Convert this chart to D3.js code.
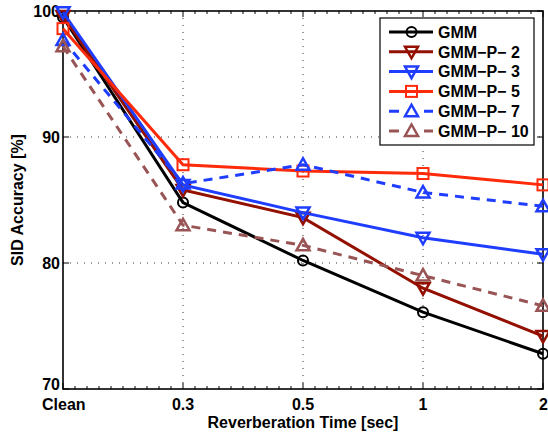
<!DOCTYPE html>
<html>
<head>
<meta charset="utf-8">
<script src="https://cdn.jsdelivr.net/npm/d3@7"></script>
<style>
  body { margin: 0; background: #fff; }
  svg text { font-family: "Liberation Sans", Arial, sans-serif; font-weight: bold; fill: #000; }
</style>
</head>
<body>
<div id="chart"></div>
<script>
var categories = ["Clean", "0.3", "0.5", "1", "2"];
var yTicks = [70, 80, 90, 100];

var gmm    = [99.5, 84.8, 80.2, 76.1, 72.8];
var gmmP2  = [99.6, 85.8, 83.6, 78.0, 74.2];
var gmmP3  = [99.9, 86.2, 84.0, 82.0, 80.7];
var gmmP5  = [98.6, 87.8, 87.3, 87.1, 86.2];
var gmmP7  = [97.7, 86.3, 87.8, 85.6, 84.5];
var gmmP10 = [97.2, 83.0, 81.4, 79.0, 76.6];

var series = [
  {name: "GMM",         values: gmm,    color: "#000000", dash: null,  marker: "circle"},
  {name: "GMM\u2212P\u2212 2",  values: gmmP2,  color: "#930f00", dash: null,  marker: "down"},
  {name: "GMM\u2212P\u2212 3",  values: gmmP3,  color: "#1f3dff", dash: null,  marker: "down"},
  {name: "GMM\u2212P\u2212 5",  values: gmmP5,  color: "#ff2a0a", dash: null,  marker: "square"},
  {name: "GMM\u2212P\u2212 7",  values: gmmP7,  color: "#1f3dff", dash: "9,7", marker: "up"},
  {name: "GMM\u2212P\u2212 10", values: gmmP10, color: "#995555", dash: "9,7", marker: "up"}
];

var W = 548, H = 432;
var margin = {top: 11, right: 5, bottom: 43, left: 63};
var width = W - margin.left - margin.right,
    height = H - margin.top - margin.bottom;

var svg = d3.select("#chart").append("svg")
    .attr("width", W).attr("height", H)
  .append("g")
    .attr("transform", "translate(" + margin.left + "," + margin.top + ")");

var x = d3.scalePoint().domain(categories).range([0, width]);
var xi = d3.scaleLinear().domain([0, categories.length - 1]).range([0, width]);
var y = d3.scaleLinear().domain([70, 100]).range([height, 0]);

// dotted grid
svg.append("g").selectAll("line")
  .data(categories.slice(1, -1))
  .enter().append("line")
  .attr("x1", function(d) { return x(d); }).attr("x2", function(d) { return x(d); })
  .attr("y1", 0).attr("y2", height)
  .attr("stroke", "#333").attr("stroke-width", 1).attr("stroke-dasharray", "1,6");
svg.append("g").selectAll("line")
  .data(yTicks.slice(1, -1))
  .enter().append("line")
  .attr("x1", 0).attr("x2", width)
  .attr("y1", function(d) { return y(d); }).attr("y2", function(d) { return y(d); })
  .attr("stroke", "#333").attr("stroke-width", 1).attr("stroke-dasharray", "1,6");

// minor ticks (top and bottom)
var minor = d3.range(0, 40).map(function(i) { return i / 10; }).filter(function(v) { return v % 1 !== 0; });
var mt = svg.append("g");
mt.selectAll(".mb").data(minor).enter().append("line")
  .attr("x1", function(d) { return xi(d); }).attr("x2", function(d) { return xi(d); })
  .attr("y1", height).attr("y2", height - 3)
  .attr("stroke", "#000").attr("stroke-width", 1);
mt.selectAll(".mtp").data(minor).enter().append("line")
  .attr("x1", function(d) { return xi(d); }).attr("x2", function(d) { return xi(d); })
  .attr("y1", 0).attr("y2", 3)
  .attr("stroke", "#000").attr("stroke-width", 1);

// major ticks inward
var tk = svg.append("g");
tk.selectAll(".xb").data(categories).enter().append("line")
  .attr("x1", function(d) { return x(d); }).attr("x2", function(d) { return x(d); })
  .attr("y1", height).attr("y2", height - 6).attr("stroke", "#000");
tk.selectAll(".xt").data(categories).enter().append("line")
  .attr("x1", function(d) { return x(d); }).attr("x2", function(d) { return x(d); })
  .attr("y1", 0).attr("y2", 6).attr("stroke", "#000");
tk.selectAll(".yl").data(yTicks).enter().append("line")
  .attr("x1", 0).attr("x2", 6)
  .attr("y1", function(d) { return y(d); }).attr("y2", function(d) { return y(d); }).attr("stroke", "#000");
tk.selectAll(".yr").data(yTicks).enter().append("line")
  .attr("x1", width).attr("x2", width - 6)
  .attr("y1", function(d) { return y(d); }).attr("y2", function(d) { return y(d); }).attr("stroke", "#000");

// axes box
svg.append("rect")
  .attr("x", 0).attr("y", 0).attr("width", width).attr("height", height)
  .attr("fill", "none").attr("stroke", "#000").attr("stroke-width", 1.6);

// tick labels
svg.append("g").selectAll("text")
  .data(categories).enter().append("text")
  .attr("x", function(d) { return x(d); })
  .attr("y", height + 21)
  .attr("text-anchor", function(d, i) { return i === 0 ? "start" : (i === categories.length - 1 ? "end" : "middle"); })
  .attr("dx", function(d, i) { return i === 0 ? -21 : (i === categories.length - 1 ? 5 : 0); })
  .style("font-size", "16px")
  .text(function(d) { return d; });
svg.append("g").selectAll("text")
  .data(yTicks).enter().append("text")
  .attr("x", -3)
  .attr("y", function(d) { return y(d); })
  .attr("dy", function(d) { return d === 70 ? "0.05em" : "0.36em"; })
  .attr("text-anchor", "end")
  .style("font-size", "16px")
  .text(function(d) { return d; });

// axis titles
svg.append("text")
  .attr("x", width / 2).attr("y", height + 39)
  .attr("text-anchor", "middle").style("font-size", "16px")
  .text("Reverberation Time [sec]");
svg.append("text")
  .attr("transform", "translate(" + (-40) + "," + (height / 2) + ") rotate(-90)")
  .attr("text-anchor", "middle").style("font-size", "16px")
  .text("SID Accuracy [%]");

function drawMarker(g, type, color) {
  if (type === "circle") {
    g.append("circle").attr("r", 5).attr("fill", "none").attr("stroke", color).attr("stroke-width", 2);
  } else if (type === "square") {
    g.append("rect").attr("x", -5.5).attr("y", -5.5).attr("width", 11).attr("height", 11)
      .attr("fill", "none").attr("stroke", color).attr("stroke-width", 2);
  } else if (type === "down") {
    g.append("path").attr("d", "M-6.5,-5L6.5,-5L0,6.5Z")
      .attr("fill", "none").attr("stroke", color).attr("stroke-width", 2.5);
  } else if (type === "up") {
    g.append("path").attr("d", "M-6.5,5L6.5,5L0,-6.5Z")
      .attr("fill", "none").attr("stroke", color).attr("stroke-width", 2.5);
  }
}

var line = d3.line()
  .x(function(d, i) { return x(categories[i]); })
  .y(function(d) { return y(d); });

series.forEach(function(s) {
  var g = svg.append("g");
  g.append("path")
    .attr("d", line(s.values))
    .attr("fill", "none")
    .attr("stroke", s.color)
    .attr("stroke-width", 3)
    .attr("stroke-dasharray", s.dash);
  s.values.forEach(function(v, i) {
    var m = g.append("g").attr("transform", "translate(" + x(categories[i]) + "," + y(v) + ")");
    drawMarker(m, s.marker, s.color);
  });
});

// legend
var lg = svg.append("g").attr("transform", "translate(" + (380 - margin.left) + "," + (18 - margin.top) + ")");
lg.append("rect").attr("x", 0).attr("y", 0).attr("width", 154).attr("height", 127)
  .attr("fill", "#fff").attr("stroke", "#000").attr("stroke-width", 1.2);
series.forEach(function(s, i) {
  var yy = 14 + i * 19.8;
  var e = lg.append("g").attr("transform", "translate(0," + yy + ")");
  e.append("line").attr("x1", 9).attr("x2", 53).attr("y1", 0).attr("y2", 0)
    .attr("stroke", s.color).attr("stroke-width", 3).attr("stroke-dasharray", s.dash ? "10,25" : null);
  var m = e.append("g").attr("transform", "translate(31.5,0)");
  drawMarker(m, s.marker, s.color);
  e.append("text").attr("x", 58).attr("y", 0).attr("dy", "0.36em")
    .style("font-size", "16px").text(s.name);
});
</script>
</body>
</html>
